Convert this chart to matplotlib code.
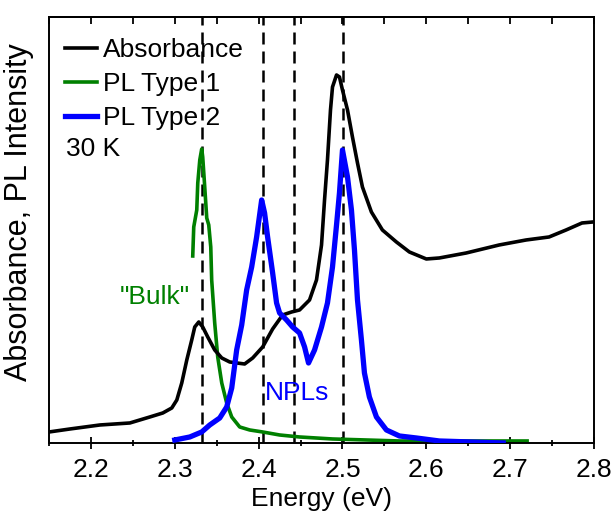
import matplotlib
matplotlib.use("Agg")
import matplotlib.pyplot as plt
from matplotlib.ticker import MultipleLocator, NullLocator

plt.rcParams['font.family'] = ['Liberation Sans', 'DejaVu Sans']

# ---- data (intensities in arbitrary units) ----
abs_energy = [2.1500, 2.1750, 2.2107, 2.2464, 2.2702, 2.2857, 2.2964, 2.3024, 2.3083, 2.3143,
              2.3202, 2.3238, 2.3286, 2.3333, 2.3393, 2.3476, 2.3560, 2.3655, 2.3738, 2.3833,
              2.3929, 2.4048, 2.4167, 2.4286, 2.4393, 2.4488, 2.4607, 2.4690, 2.4750, 2.4786,
              2.4821, 2.4857, 2.4881, 2.4929, 2.4964, 2.5000, 2.5060, 2.5119, 2.5179, 2.5238,
              2.5345, 2.5476, 2.5643, 2.5798, 2.6000, 2.6155, 2.6476, 2.6869, 2.7190, 2.7464,
              2.7667, 2.7857, 2.7988]
abs_int = [11, 14, 18, 20, 26, 30, 35, 43, 60, 83,
           103, 116, 121, 116, 106, 93, 85, 81, 80, 79,
           85, 96, 114, 128, 131, 133, 143, 163, 198, 243,
           283, 333, 356, 368, 366, 353, 333, 306, 280, 256,
           231, 213, 201, 191, 184, 185, 190, 198, 203, 206,
           213, 220, 221]

pl1_energy = [2.3214, 2.3226, 2.3262, 2.3274, 2.3298, 2.3321, 2.3333, 2.3357, 2.3381, 2.3405,
              2.3429, 2.3440, 2.3476, 2.3512, 2.3560, 2.3619, 2.3679, 2.3774, 2.3893, 2.4048,
              2.4250, 2.4488, 2.4881, 2.5679, 2.7202]
pl1_int = [187, 216, 233, 260, 283, 294, 286, 256, 225, 218,
           196, 163, 120, 86, 60, 40, 26, 16, 13, 11,
           8, 6, 4, 2, 2]

pl2_energy = [2.3000, 2.3179, 2.3321, 2.3417, 2.3536, 2.3619, 2.3679, 2.3738, 2.3798, 2.3857,
              2.3917, 2.3976, 2.4036, 2.4071, 2.4107, 2.4167, 2.4214, 2.4250, 2.4333, 2.4405,
              2.4488, 2.4548, 2.4595, 2.4667, 2.4750, 2.4821, 2.4881, 2.4929, 2.4964, 2.5000,
              2.5060, 2.5107, 2.5143, 2.5179, 2.5226, 2.5262, 2.5321, 2.5405, 2.5524, 2.5679,
              2.5881, 2.6155, 2.6917]
pl2_int = [3, 6, 11, 18, 25, 36, 55, 93, 118, 153,
           176, 206, 243, 230, 206, 170, 140, 130, 123, 116,
           110, 96, 80, 93, 116, 140, 176, 218, 250, 293,
           266, 233, 193, 143, 103, 70, 46, 26, 13, 7,
           5, 2, 0]

dashed_energies = [2.333, 2.405, 2.442, 2.501]
series_labels = ["Absorbance", "PL Type 1", "PL Type 2"]
x_ticks = [2.2, 2.3, 2.4, 2.5, 2.6, 2.7, 2.8]

# ---- figure ----
fig = plt.figure(figsize=(6.13, 5.13), dpi=100)
ax = fig.add_axes([0.080, 0.1365, 0.889, 0.8304])

fs = 19
for e in dashed_energies:
    ax.axvline(e, color='black', lw=1.8, linestyle=(0, (4.8, 2.8)), zorder=1)

ax.plot(abs_energy, abs_int, color='black', lw=2.6, label=series_labels[0], zorder=3,
        solid_joinstyle='round')
ax.plot(pl1_energy, pl1_int, color='#008000', lw=2.6, label=series_labels[1], zorder=2,
        solid_joinstyle='round')
ax.plot(pl2_energy, pl2_int, color='#0000ff', lw=3.8, label=series_labels[2], zorder=4,
        solid_joinstyle='round')

ax.set_xlim(2.15, 2.8)
ax.set_ylim(0, 426)
ax.set_xticks(x_ticks)
ax.set_xticklabels([f"{t:.1f}" for t in x_ticks])
ax.xaxis.set_minor_locator(MultipleLocator(0.05))
ax.yaxis.set_major_locator(NullLocator())
ax.tick_params(axis='x', which='major', direction='inout', length=9, width=1.3,
               labelsize=fs, pad=6)
ax.tick_params(axis='x', which='minor', direction='inout', length=5, width=1.3)

sec = ax.secondary_xaxis('top')
sec.xaxis.set_major_locator(MultipleLocator(0.05))
sec.tick_params(axis='x', which='major', direction='in', length=5, width=1.3,
                labeltop=False)

for sp in ax.spines.values():
    sp.set_linewidth(1.4)
sec.spines['top'].set_linewidth(1.4)

ax.set_xlabel("Energy (eV)", fontsize=fs, labelpad=4)
ax.set_ylabel("Absorbance, PL Intensity", fontsize=22)
ax.yaxis.set_label_coords(-0.028, 0.542)

leg = ax.legend(loc='upper left', bbox_to_anchor=(0.029, 0.950), frameon=False,
                fontsize=fs, handlelength=1.2, handletextpad=0.25,
                borderpad=0, borderaxespad=0, labelspacing=0.37)
ax.text(0.031, 0.69, "30 K", transform=ax.transAxes, fontsize=fs,
        ha='left', va='center')
ax.text(2.276, 146, '"Bulk"', color='#008000', fontsize=fs, ha='center', va='center')
ax.text(2.446, 50, "NPLs", color='#0000ff', fontsize=fs, ha='center', va='center')

fig.savefig("out.png", dpi=100)
